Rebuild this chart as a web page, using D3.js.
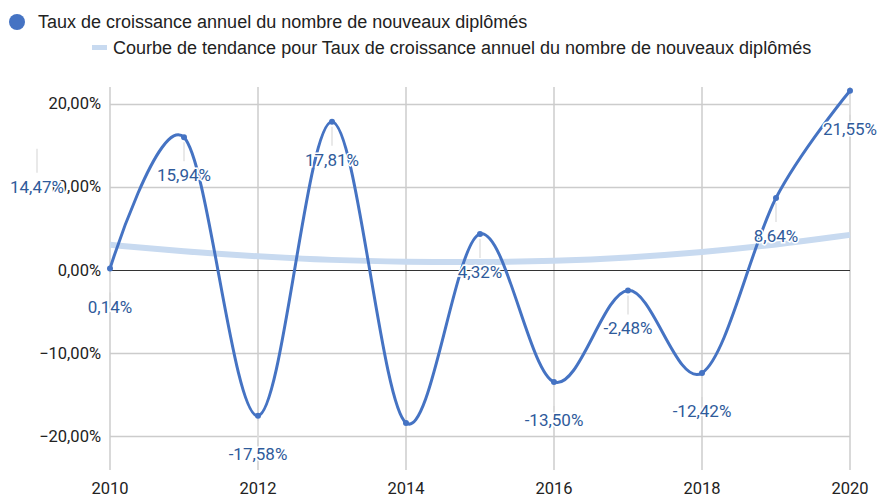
<!DOCTYPE html>
<html>
<head>
<meta charset="utf-8">
<script src="https://cdnjs.cloudflare.com/ajax/libs/d3/7.8.5/d3.min.js"></script>
<style>
  body { margin: 0; background: #fff; }
  svg { font-family: Roboto, "Liberation Sans", Arial, sans-serif; }
</style>
</head>
<body>
<svg width="878" height="498"></svg>
<script>
var years = [2010, 2011, 2012, 2013, 2014, 2015, 2016, 2017, 2018, 2019, 2020];
var rates = [0.14, 15.94, -17.58, 17.81, -18.43, 4.32, -13.50, -2.48, -12.42, 8.64, 21.55];
// label texts as shown on the chart (the 2014 one is displaced to the left)
var labels = ["0,14%", "15,94%", "-17,58%", "17,81%", "14,47%", "4,32%", "-13,50%", "-2,48%", "-12,42%", "8,64%", "21,55%"];
var trend = [3.0, 2.2, 1.6, 1.15, 0.95, 0.9, 1.05, 1.45, 2.1, 3.0, 4.2];
var yTicks = [-20, -10, 0, 10, 20];
var xTicks = [2010, 2012, 2014, 2016, 2018, 2020];
var legendNames = ["Taux de croissance annuel du nombre de nouveaux diplômés",
                   "Courbe de tendance pour Taux de croissance annuel du nombre de nouveaux diplômés"];

var svg = d3.select("svg");
var blue = "#4573c3", trendBlue = "#c8daf0", labelBlue = "#2f5b9b";

var x = d3.scaleLinear().domain([2010, 2020]).range([110, 850]);
var y = d3.scaleLinear().domain([-24.1, 22]).range([470, 87]);

var fr = d3.formatLocale({decimal: ",", thousands: " ", grouping: [3], currency: ["", "%"]});
var fmt = function(v){ return fr.format(".2f")(v) + "%"; };

// grid
svg.append("g").selectAll("line").data(xTicks).enter().append("line")
  .attr("x1", function(d){ return x(d); }).attr("x2", function(d){ return x(d); })
  .attr("y1", y.range()[1]).attr("y2", y.range()[0])
  .attr("stroke", "#cccccc").attr("stroke-width", 1.5);

svg.append("g").selectAll("line").data(yTicks).enter().append("line")
  .attr("x1", x.range()[0]).attr("x2", x.range()[1])
  .attr("y1", function(d){ return Math.round(y(d)) + 0.5; }).attr("y2", function(d){ return Math.round(y(d)) + 0.5; })
  .attr("stroke", function(d){ return d === 0 ? "#333" : "#cccccc"; })
  .attr("stroke-width", function(d){ return d === 0 ? 1.2 : 1.5; });

// axis labels
svg.append("g").selectAll("text").data(yTicks).enter().append("text")
  .attr("x", 101).attr("y", function(d){ return y(d); })
  .attr("dy", "0.35em").attr("text-anchor", "end")
  .attr("font-size", 16.5).attr("fill", "#222")
  .text(function(d){ return fmt(d); });

svg.append("g").selectAll("text").data(xTicks).enter().append("text")
  .attr("x", function(d){ return x(d); }).attr("y", 494)
  .attr("text-anchor", "middle")
  .attr("font-size", 16.5).attr("fill", "#222")
  .text(function(d){ return d; });

// trend line
var trendLine = d3.line()
  .x(function(d, i){ return x(years[i]); })
  .y(function(d){ return y(d); })
  .curve(d3.curveBasis);
svg.append("path").datum(trend)
  .attr("d", trendLine)
  .attr("fill", "none").attr("stroke", trendBlue).attr("stroke-width", 6);

// label leaders
var pts = years.map(function(yr, i){ return {x: x(yr), y: y(rates[i]), v: rates[i], t: labels[i], i: i}; });
function labelPos(p){
  if (p.i === 4) return {x: x(2010) - 73, y: y(10)};
  return {x: p.x, y: p.y + 38};
}
svg.append("g").selectAll("line").data(pts).enter().append("line")
  .attr("x1", function(p){ return p.i === 4 ? labelPos(p).x : p.x; })
  .attr("x2", function(p){ return p.i === 4 ? labelPos(p).x : p.x; })
  .attr("y1", function(p){ return p.i === 4 ? labelPos(p).y - 38 : p.y + 5; })
  .attr("y2", function(p){ return labelPos(p).y - 14; })
  .attr("stroke", "#e2e2e2").attr("stroke-width", 1.5);

// main line
var line = d3.line()
  .x(function(d, i){ return x(years[i]); })
  .y(function(d){ return y(d); })
  .curve(d3.curveCardinal.tension(0));
svg.append("path").datum(rates)
  .attr("d", line)
  .attr("fill", "none").attr("stroke", blue).attr("stroke-width", 3);

svg.append("g").selectAll("circle").data(pts).enter().append("circle")
  .attr("cx", function(p){ return p.x; }).attr("cy", function(p){ return p.y; })
  .attr("r", 3).attr("fill", blue);

// data labels
svg.append("g").selectAll("text").data(pts).enter().append("text")
  .attr("x", function(p){ return labelPos(p).x; })
  .attr("y", function(p){ return labelPos(p).y; })
  .attr("dy", "0.35em").attr("text-anchor", "middle")
  .attr("font-size", 17).attr("fill", labelBlue)
  .attr("stroke", "#fff").attr("stroke-width", 3).attr("paint-order", "stroke")
  .text(function(p){ return p.t; });

// legend
var legend = svg.append("g").attr("font-family", "'Liberation Sans', Arial, sans-serif");
legend.append("circle").attr("cx", 17).attr("cy", 22).attr("r", 8).attr("fill", blue);
legend.append("text").attr("x", 38).attr("y", 22).attr("dy", "0.35em")
  .attr("font-size", 18).attr("fill", "#222").text(legendNames[0]);
legend.append("rect").attr("x", 92).attr("y", 45).attr("width", 15).attr("height", 5).attr("fill", trendBlue);
legend.append("text").attr("x", 113).attr("y", 48).attr("dy", "0.35em")
  .attr("font-size", 18).attr("fill", "#222").text(legendNames[1]);
</script>
</body>
</html>
